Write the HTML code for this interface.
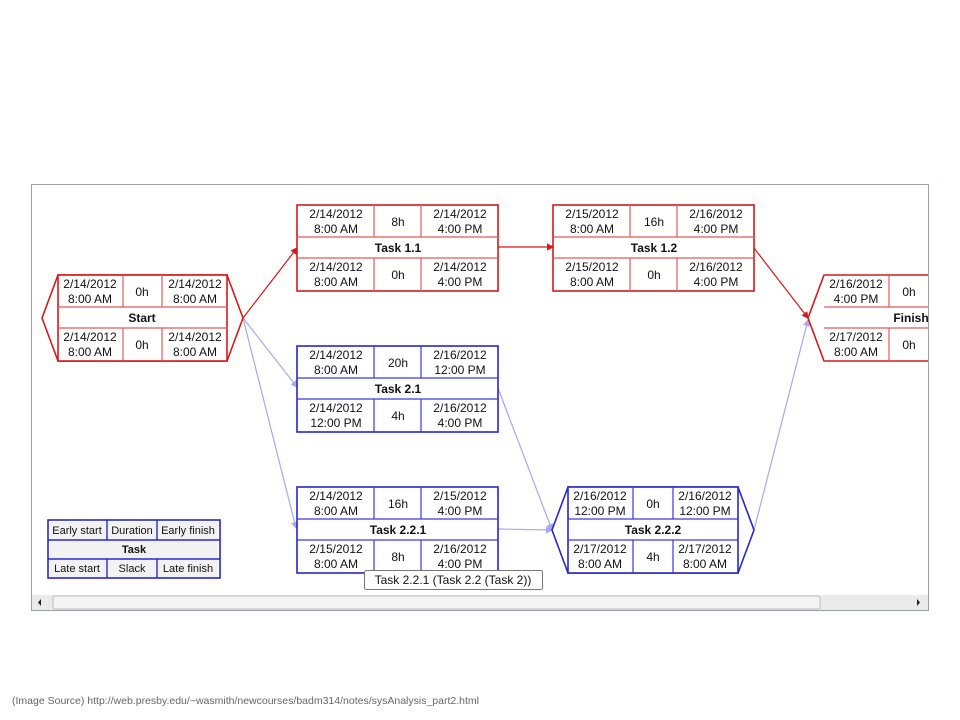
<!DOCTYPE html>
<html><head><meta charset="utf-8"><style>
html,body{margin:0;padding:0;background:#fff;}
svg{display:block;}
text{font-family:"Liberation Sans","DejaVu Sans",sans-serif;font-size:12px;fill:#111;text-anchor:middle;}
.b{font-weight:bold;}
.r .o{fill:#fff;stroke:#d41a1a;stroke-width:1.6}
.r .i{stroke:#e25a5a;stroke-width:1.2;fill:none}
.u .o{fill:#fff;stroke:#2626cc;stroke-width:1.6}
.u .i{stroke:#3a3ad8;stroke-width:1.2;fill:none}
</style></head><body>
<svg width="960" height="720" viewBox="0 0 960 720">
<defs>
<clipPath id="cp"><rect x="32" y="185" width="896" height="410"/></clipPath>
<marker id="ar" markerWidth="6" markerHeight="6" refX="5" refY="3" orient="auto"><path d="M0,0 L6,3 L0,6z" fill="#d41a1a"/></marker>
<marker id="ab" markerWidth="6" markerHeight="6" refX="5" refY="3" orient="auto"><path d="M0,0 L6,3 L0,6z" fill="#a8a8ee"/></marker>
</defs>
<rect x="31.5" y="184.5" width="897" height="426" fill="#fff" stroke="#9aa0a8"/>
<g clip-path="url(#cp)">
<g fill="none" stroke-width="1.2">
<line x1="243" y1="318" x2="297" y2="248" stroke="#d41a1a" marker-end="url(#ar)"/>
<line x1="498" y1="247" x2="553" y2="247" stroke="#d41a1a" marker-end="url(#ar)"/>
<line x1="754" y1="248" x2="808" y2="318" stroke="#d41a1a" marker-end="url(#ar)"/>
<line x1="243" y1="318" x2="297" y2="387" stroke="#a8a8ee" marker-end="url(#ab)"/>
<line x1="243" y1="318" x2="296" y2="528" stroke="#a8a8ee" marker-end="url(#ab)"/>
<line x1="498" y1="388" x2="552" y2="530" stroke="#a8a8ee" marker-end="url(#ab)"/>
<line x1="498" y1="529" x2="552" y2="530" stroke="#a8a8ee" marker-end="url(#ab)"/>
<line x1="754" y1="530" x2="808" y2="320" stroke="#a8a8ee" marker-end="url(#ab)"/>
</g>

<g class="r">
<polygon class="o" points="58,275 227,275 243,318 227,361 58,361 42,318" stroke="#a01515"/>
<rect class="o" x="58" y="275" width="169" height="86"/>
<path class="i" d="M58,307H227M58,328H227M123,275V307M162,275V307M123,328V361M162,328V361"/>
<text x="90" y="288">2/14/2012</text><text x="90" y="303">8:00 AM</text>
<text x="142" y="296">0h</text>
<text x="195" y="288">2/14/2012</text><text x="195" y="303">8:00 AM</text>
<text x="142" y="322" class="b">Start</text>
<text x="90" y="341">2/14/2012</text><text x="90" y="356">8:00 AM</text>
<text x="142" y="349">0h</text>
<text x="195" y="341">2/14/2012</text><text x="195" y="356">8:00 AM</text>
</g>

<g class="r">
<rect class="o" x="297" y="205" width="201" height="86"/>
<path class="i" d="M297,237H498M297,258H498M374,205V237M421,205V237M374,258V291M421,258V291"/>
<text x="336" y="218">2/14/2012</text><text x="336" y="233">8:00 AM</text>
<text x="398" y="226">8h</text>
<text x="460" y="218">2/14/2012</text><text x="460" y="233">4:00 PM</text>
<text x="398" y="252" class="b">Task 1.1</text>
<text x="336" y="271">2/14/2012</text><text x="336" y="286">8:00 AM</text>
<text x="398" y="279">0h</text>
<text x="460" y="271">2/14/2012</text><text x="460" y="286">4:00 PM</text>
</g>

<g class="r">
<rect class="o" x="553" y="205" width="201" height="86"/>
<path class="i" d="M553,237H754M553,258H754M630,205V237M677,205V237M630,258V291M677,258V291"/>
<text x="592" y="218">2/15/2012</text><text x="592" y="233">8:00 AM</text>
<text x="654" y="226">16h</text>
<text x="716" y="218">2/16/2012</text><text x="716" y="233">4:00 PM</text>
<text x="654" y="252" class="b">Task 1.2</text>
<text x="592" y="271">2/15/2012</text><text x="592" y="286">8:00 AM</text>
<text x="654" y="279">0h</text>
<text x="716" y="271">2/16/2012</text><text x="716" y="286">4:00 PM</text>
</g>

<g class="r">
<polygon class="o" points="824,275 990,275 990,361 824,361 808,318" stroke="#a01515"/>
<path class="i" d="M824,307H990M824,328H990M889,275V307M889,328V361"/>
<text x="856" y="288">2/16/2012</text><text x="856" y="303">4:00 PM</text>
<text x="909" y="296">0h</text>
<text x="911" y="322" class="b">Finish</text>
<text x="856" y="341">2/17/2012</text><text x="856" y="356">8:00 AM</text>
<text x="909" y="349">0h</text>
</g>

<g class="u">
<rect class="o" x="297" y="346" width="201" height="86"/>
<path class="i" d="M297,378H498M297,399H498M374,346V378M421,346V378M374,399V432M421,399V432"/>
<text x="336" y="359">2/14/2012</text><text x="336" y="374">8:00 AM</text>
<text x="398" y="367">20h</text>
<text x="460" y="359">2/16/2012</text><text x="460" y="374">12:00 PM</text>
<text x="398" y="393" class="b">Task 2.1</text>
<text x="336" y="412">2/14/2012</text><text x="336" y="427">12:00 PM</text>
<text x="398" y="420">4h</text>
<text x="460" y="412">2/16/2012</text><text x="460" y="427">4:00 PM</text>
</g>

<g class="u">
<rect class="o" x="297" y="487" width="201" height="86"/>
<path class="i" d="M297,519H498M297,540H498M374,487V519M421,487V519M374,540V573M421,540V573"/>
<text x="336" y="500">2/14/2012</text><text x="336" y="515">8:00 AM</text>
<text x="398" y="508">16h</text>
<text x="460" y="500">2/15/2012</text><text x="460" y="515">4:00 PM</text>
<text x="398" y="534" class="b">Task 2.2.1</text>
<text x="336" y="553">2/15/2012</text><text x="336" y="568">8:00 AM</text>
<text x="398" y="561">8h</text>
<text x="460" y="553">2/16/2012</text><text x="460" y="568">4:00 PM</text>
</g>

<g class="u">
<polygon class="o" points="568,487 738,487 754,530 738,573 568,573 552,530" stroke="#1a1a90"/>
<rect class="o" x="568" y="487" width="170" height="86"/>
<path class="i" d="M568,519H738M568,540H738M633,487V519M673,487V519M633,540V573M673,540V573"/>
<text x="600" y="500">2/16/2012</text><text x="600" y="515">12:00 PM</text>
<text x="653" y="508">0h</text>
<text x="705" y="500">2/16/2012</text><text x="705" y="515">12:00 PM</text>
<text x="653" y="534" class="b">Task 2.2.2</text>
<text x="600" y="553">2/17/2012</text><text x="600" y="568">8:00 AM</text>
<text x="653" y="561">4h</text>
<text x="705" y="553">2/17/2012</text><text x="705" y="568">8:00 AM</text>
</g>

<g>
<rect x="48" y="520" width="172" height="58" fill="#fff" stroke="#2626cc" stroke-width="1.6"/>
<rect x="50" y="522" width="56" height="17" fill="#f2f2f2"/>
<rect x="108" y="522" width="48" height="17" fill="#f2f2f2"/>
<rect x="158" y="522" width="60" height="17" fill="#f2f2f2"/>
<rect x="50" y="541" width="168" height="17" fill="#f2f2f2"/>
<rect x="50" y="560" width="56" height="17" fill="#f2f2f2"/>
<rect x="108" y="560" width="48" height="17" fill="#f2f2f2"/>
<rect x="158" y="560" width="60" height="17" fill="#f2f2f2"/>
<path d="M48,540H220M48,559H220M107,520V540M157,520V540M107,559V578M157,559V578" stroke="#2626cc" stroke-width="1.4" fill="none"/>
<text x="77" y="534" style="font-size:11px">Early start</text>
<text x="132" y="534" style="font-size:11px">Duration</text>
<text x="188" y="534" style="font-size:11px">Early finish</text>
<text x="134" y="553" class="b" style="font-size:11px">Task</text>
<text x="77" y="572" style="font-size:11px">Late start</text>
<text x="132" y="572" style="font-size:11px">Slack</text>
<text x="188" y="572" style="font-size:11px">Late finish</text>
</g>

<rect x="364.5" y="570.5" width="178" height="19" rx="2" fill="#fff" stroke="#777"/>
<text x="453" y="584">Task 2.2.1 (Task 2.2 (Task 2))</text>
</g>

<rect x="32" y="595" width="896" height="15" fill="#eaeaea"/>
<rect x="53" y="596" width="767" height="13" rx="2" fill="#f4f4f4" stroke="#b8bcc0"/>
<path d="M41,599 L38,602.5 L41,606z" fill="#222"/>
<path d="M917,599 L920,602.5 L917,606z" fill="#222"/>

<text x="12" y="704" style="font-size:10.5px;fill:#666;text-anchor:start">(Image Source) http://web.presby.edu/~wasmith/newcourses/badm314/notes/sysAnalysis_part2.html</text>
</svg>
</body></html>
